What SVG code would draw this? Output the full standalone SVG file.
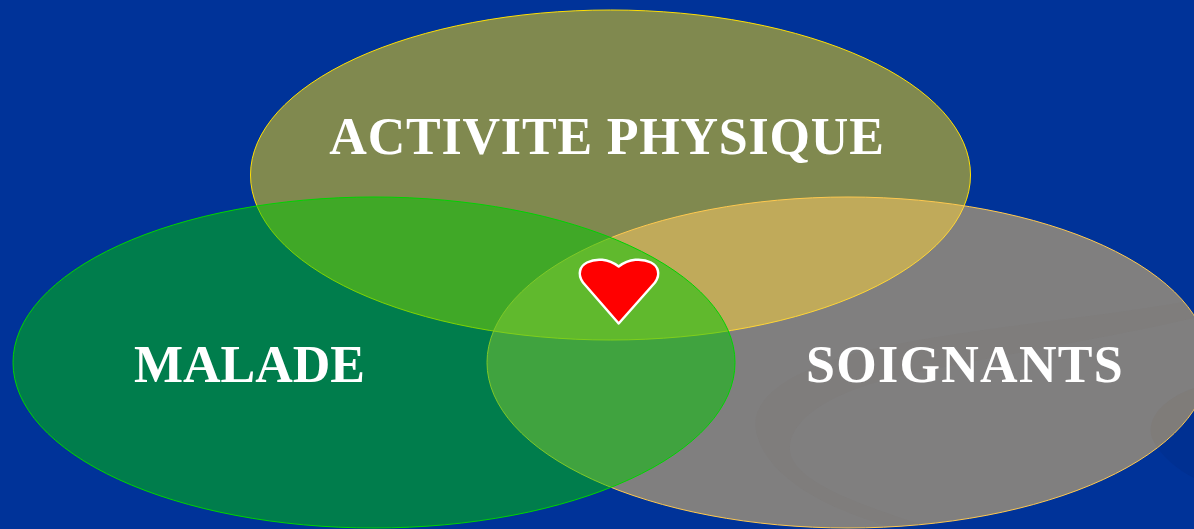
<svg xmlns="http://www.w3.org/2000/svg" width="1194" height="529" viewBox="0 0 1194 529">
<defs>
<clipPath id="soin"><ellipse cx="848" cy="362.500" rx="360" ry="165"/></clipPath>
</defs>
<style>
.e{fill-opacity:.5;stroke-width:1}
.t{font-family:"Liberation Serif","Times New Roman",serif;font-weight:bold;font-size:52px;fill:#fff;text-anchor:middle}
.s{fill:#7a7672;fill-opacity:.22}
</style>
<rect width="1194" height="529" fill="#003399"/>
<g id="background-swirl">
<path d="M1194 388C1165 398 1145 418 1152 438C1160 456 1178 470 1194 478Z" fill="#003092"/>
</g>
<g id="activite-physique">
<ellipse class="e" cx="610.500" cy="175" rx="360" ry="165" fill="#ffdf05" stroke="#ffdf05"/>
</g>
<g id="soignants">
<ellipse class="e" cx="848" cy="362.500" rx="361" ry="165.500" fill="#ffcc66" stroke="#ffc94f"/>
<g clip-path="url(#soin)">
<path class="s" d="M1194 300C1100 318 960 328 860 352C800 368 745 395 757 435C768 478 830 512 900 529L935 529C860 505 785 480 790 445C795 410 850 385 920 372C1020 352 1120 335 1194 318Z"/>
<path class="s" d="M1194 388C1165 398 1145 418 1152 438C1160 456 1178 470 1194 478Z"/>
</g>
</g>
<g id="malade">
<ellipse class="e" cx="374" cy="362.500" rx="361" ry="165.500" fill="#00c800" stroke="#00d400"/>
</g>
<g id="heart">
<path d="M618.700 323.500L583 282.500C577 274 580 266 587 262.500C596 258 608 258.500 618.700 266.500C629 258.500 642 258 651 262.500C658 266 661 274 655 282.500Z" fill="#ff0000" stroke="#ffffff" stroke-width="2.500" stroke-linejoin="round"/>
</g>
<g id="labels">
<text class="t" x="607" y="153.500" letter-spacing=".8">ACTIVITE PHYSIQUE</text>
<text class="t" x="249.500" y="381.500">MALADE</text>
<text class="t" x="965" y="381.500" letter-spacing="1.300">SOIGNANTS</text>
</g>
<g id="connectors"></g>
</svg>
